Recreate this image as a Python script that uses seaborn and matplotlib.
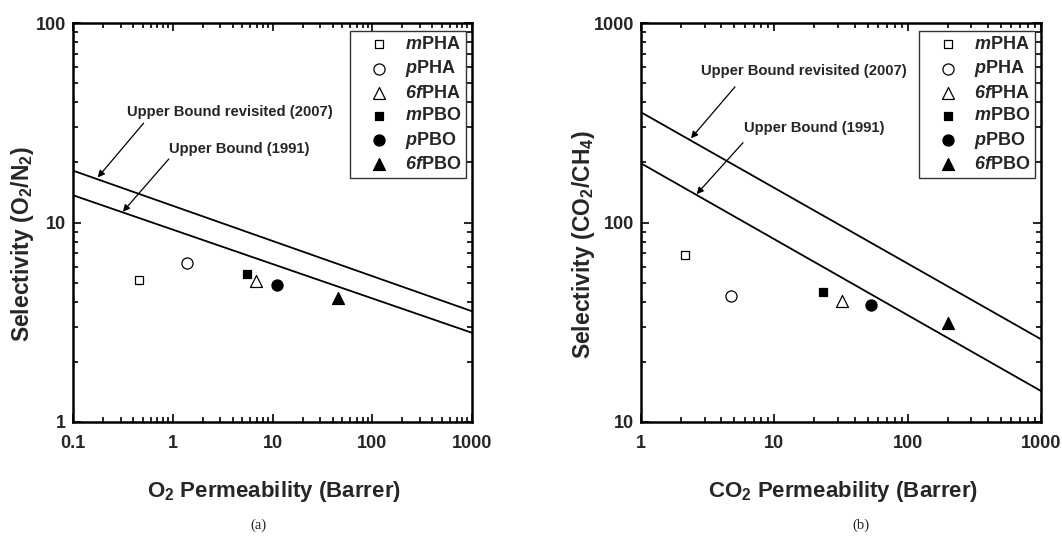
import numpy as np
import pandas as pd
import matplotlib
matplotlib.use("Agg")
import matplotlib.pyplot as plt
import seaborn as sns

# --- data ---
polymers = ["mPHA", "pPHA", "6fPHA", "mPBO", "pPBO", "6fPBO"]
labels = [r"$\mathsf{m}$PHA", r"$\mathsf{p}$PHA", r"$\mathsf{6f}$PHA",
          r"$\mathsf{m}$PBO", r"$\mathsf{p}$PBO", r"$\mathsf{6f}$PBO"]
markers = ["s", "o", "^", "s", "o", "^"]
filled = [False, False, False, True, True, True]

o2_perm = [0.46, 1.39, 6.9, 5.6, 11.1, 45]
o2n2_sel = [5.17, 6.25, 5.1, 5.55, 4.85, 4.2]

co2_perm = [2.14, 4.77, 32.1, 23.2, 53.1, 199]
co2ch4_sel = [68.5, 42.7, 40.2, 44.6, 38.7, 31.2]

# upper bound end points (x range of each panel)
o2_bound_x = [0.1, 1000]
o2_bound_1991 = [13.7, 2.80]
o2_bound_2008 = [18.2, 3.59]
co2_bound_x = [1, 1000]
co2_bound_1991 = [198, 14.3]
co2_bound_2008 = [357, 26.0]

sns.set_style("white")
plt.rcParams["font.family"] = ["Liberation Sans", "DejaVu Sans"]
plt.rcParams["font.weight"] = "bold"
plt.rcParams["mathtext.fontset"] = "custom"
plt.rcParams["mathtext.rm"] = "Liberation Sans:bold"
plt.rcParams["mathtext.it"] = "Liberation Sans:bold:italic"
plt.rcParams["mathtext.bf"] = "Liberation Sans:bold"
plt.rcParams["mathtext.sf"] = "Liberation Sans:bold:italic"
plt.rcParams["mathtext.default"] = "rm"

fig = plt.figure(figsize=(10.62, 5.39), dpi=100)
W, H = 1062, 539
ax_a = fig.add_axes([73 / W, 1 - 422 / H, 399 / W, 399 / H])
ax_b = fig.add_axes([641 / W, 1 - 422 / H, 400 / W, 399 / H])

sizes = {"s": 40, "o": 64, "^": 74}


def draw_panel(ax, px, py, bx, b91, b08, xlim, ylim, xlab, ylab, ann, ylab_x):
    bounds = pd.DataFrame({"x": bx * 2, "y": b91 + b08,
                           "bound": ["1991"] * 2 + ["2008"] * 2})
    sns.lineplot(data=bounds, x="x", y="y", units="bound", estimator=None,
                 color="black", lw=1.3, ax=ax, legend=False)
    for i, name in enumerate(polymers):
        d = pd.DataFrame({"x": [px[i]], "y": [py[i]]})
        sns.scatterplot(data=d, x="x", y="y", marker=markers[i],
                        s=sizes[markers[i]],
                        facecolor="black" if filled[i] else "white",
                        edgecolor="black", linewidth=0.9, ax=ax,
                        label=labels[i], zorder=3)
    ax.set_xscale("log")
    ax.set_yscale("log")
    ax.set_xlim(*xlim)
    ax.set_ylim(*ylim)
    fmt = matplotlib.ticker.FuncFormatter(lambda v, p: f"{v:g}")
    ax.xaxis.set_major_formatter(fmt)
    ax.yaxis.set_major_formatter(fmt)
    ax.xaxis.set_minor_formatter(matplotlib.ticker.NullFormatter())
    ax.yaxis.set_minor_formatter(matplotlib.ticker.NullFormatter())
    ax.tick_params(which="both", direction="in", top=True, right=True,
                   bottom=True, left=True, labelsize=13, width=1.2,
                   color="black")
    ax.tick_params(axis="x", which="major", length=5.5, pad=9)
    ax.tick_params(axis="y", which="major", length=5.5, pad=5)
    ax.tick_params(which="minor", length=3.5)
    for sp in ax.spines.values():
        sp.set_linewidth(1.8)
        sp.set_color("black")
    ax.set_xlabel(xlab, fontsize=16, fontweight="bold", va="center")
    ax.set_ylabel(ylab, fontsize=16.5, fontweight="bold", va="center")
    ax.xaxis.set_label_coords(0.504, -0.175)
    ax.yaxis.set_label_coords(ylab_x, 0.445)

    (t1, a1t, a1h), (t2, a2t, a2h) = ann
    ax.annotate("", xy=a1h, xytext=a1t, xycoords="axes fraction",
                arrowprops=dict(arrowstyle="-|>", color="black", lw=0.9,
                                mutation_scale=10, shrinkA=0, shrinkB=0))
    ax.text(*t1, "Upper Bound revisited (2007)", transform=ax.transAxes,
            ha="center", va="center", fontsize=10.7, fontweight="bold")
    ax.annotate("", xy=a2h, xytext=a2t, xycoords="axes fraction",
                arrowprops=dict(arrowstyle="-|>", color="black", lw=0.9,
                                mutation_scale=10, shrinkA=0, shrinkB=0))
    ax.text(*t2, "Upper Bound (1991)", transform=ax.transAxes,
            ha="center", va="center", fontsize=10.7, fontweight="bold")

    leg = ax.legend(loc="upper right", fontsize=13, frameon=True,
                    fancybox=False, edgecolor="black", borderpad=0.3,
                    handletextpad=0.15, labelspacing=0.3, handlelength=2.6,
                    bbox_to_anchor=(0.986, 0.981), borderaxespad=0.0)
    leg.get_frame().set_linewidth(1.0)


draw_panel(ax_a, o2_perm, o2n2_sel, o2_bound_x, o2_bound_1991, o2_bound_2008,
           (0.1, 1000), (1, 100),
           r"O$_2$ Permeability (Barrer)", r"Selectivity (O$_2$/N$_2$)",
           [((0.392, 0.778), (0.177, 0.749), (0.062, 0.613)),
            ((0.417, 0.685), (0.240, 0.659), (0.125, 0.527))], -0.127)
draw_panel(ax_b, co2_perm, co2ch4_sel, co2_bound_x, co2_bound_1991, co2_bound_2008,
           (1, 1000), (10, 1000),
           r"CO$_2$ Permeability (Barrer)", r"Selectivity (CO$_2$/CH$_4$)",
           [((0.408, 0.879), (0.235, 0.840), (0.125, 0.711)),
            ((0.434, 0.736), (0.255, 0.700), (0.139, 0.571))], -0.143)

fig.text(258 / W, 1 - 525 / H, "(a)", ha="center", va="center",
         fontsize=10.5, family="Liberation Serif", fontweight="normal")
fig.text(861 / W, 1 - 525 / H, "(b)", ha="center", va="center",
         fontsize=10.5, family="Liberation Serif", fontweight="normal")

fig.savefig("out.png", dpi=100)
